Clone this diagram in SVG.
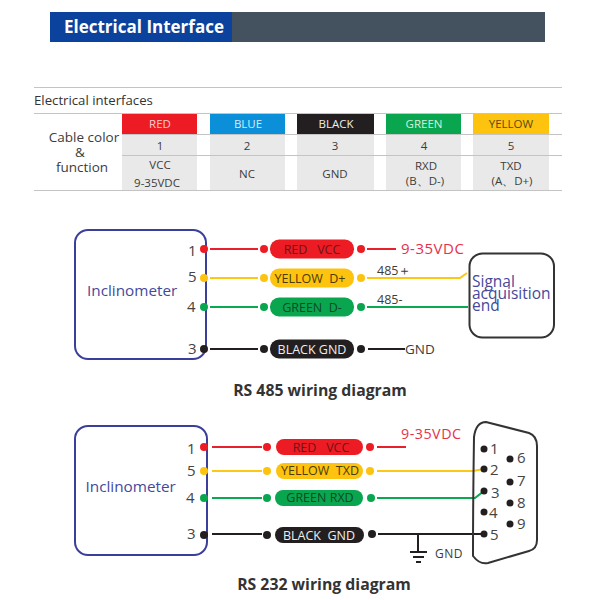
<svg xmlns="http://www.w3.org/2000/svg" width="600" height="600" viewBox="0 0 600 600">
<style>
text{font-family:"Open Sans","Noto Sans","Liberation Sans",sans-serif;fill:#3c3c3c;white-space:pre}
.c{text-anchor:middle}
.t{font-size:11.5px}
.cell{fill:#e9e9e9}
.rule{stroke:#c4c4c4;stroke-width:1}
.box{fill:none;stroke:#3b3f9a;stroke-width:2}
.inc{font-size:15.300px;fill:#45489c}
.num{font-size:15px;fill:#444}
.pl{font-size:12.500px;text-anchor:middle}
.h{font-size:15.800px;font-weight:700;fill:#333;text-anchor:middle}
.w{fill:none;stroke-width:2}
.r{stroke:#e8202e}.y{stroke:#fdc716}.g{stroke:#0aa850}.k{stroke:#231f20}
.fr{fill:#ed1c24}.fy{fill:#fdc30f}.fg{fill:#0aa64f}.fk{fill:#231f20}
.pin{font-size:15px;fill:#444}
</style>
<g id="header">
<rect x="50" y="12" width="495" height="30" fill="#44525f"/>
<rect x="50" y="12" width="182" height="30" fill="#0a429e"/>
<text x="64" y="33" font-size="17" font-weight="700" style="fill:#fff">Electrical Interface</text>
</g>
<g id="table">
<rect class="cell" x="122" y="134" width="75" height="57"/>
<rect class="cell" x="210" y="134" width="75" height="57"/>
<rect class="cell" x="297" y="134" width="77" height="57"/>
<rect class="cell" x="386" y="134" width="75" height="57"/>
<rect class="cell" x="473" y="134" width="76" height="57"/>
<rect x="122" y="114" width="75" height="20" fill="#ed1c24"/>
<rect x="210" y="114" width="75" height="20" fill="#0a8fd8"/>
<rect x="297" y="114" width="77" height="20" fill="#231f20"/>
<rect x="386" y="114" width="75" height="20" fill="#0aa64f"/>
<rect x="473" y="114" width="76" height="20" fill="#fdc30f"/>
<line class="rule" x1="34" y1="87.500" x2="562" y2="87.500"/>
<line class="rule" x1="34" y1="113.500" x2="562" y2="113.500"/>
<line class="rule" x1="122" y1="134.500" x2="562" y2="134.500"/>
<line class="rule" x1="122" y1="155.500" x2="562" y2="155.500"/>
<line class="rule" x1="34" y1="190.500" x2="562" y2="190.500"/>
<text x="34" y="105" font-size="13.200" style="fill:#333">Electrical interfaces</text>
<text class="c" font-size="13.500"><tspan x="84" y="142">Cable color</tspan><tspan x="80" y="157">&amp;</tspan><tspan x="82" y="172">function</tspan></text>
<text class="t c" x="160" y="128" style="fill:#f8d0d0">RED</text>
<text class="t c" x="248" y="128" style="fill:#d5ecf8">BLUE</text>
<text class="t c" x="336" y="128" style="fill:#eee">BLACK</text>
<text class="t c" x="424" y="128" style="fill:#d5f0dd">GREEN</text>
<text class="t c" x="511" y="128" style="fill:#5a4a10">YELLOW</text>
<text class="t c" x="160" y="150">1</text>
<text class="t c" x="247" y="150">2</text>
<text class="t c" x="335" y="150">3</text>
<text class="t c" x="424" y="150">4</text>
<text class="t c" x="511" y="150">5</text>
<text class="t c" x="160" y="169">VCC</text>
<text class="t c" x="157" y="187">9-35VDC</text>
<text class="t c" x="247" y="178">NC</text>
<text class="t c" x="335" y="178">GND</text>
<text class="t c" x="426" y="170">RXD</text>
<text class="t c" x="425" y="185">(B、D-)</text>
<text class="t c" x="511" y="170">TXD</text>
<text class="t c" x="512" y="185">(A、D+)</text>
</g>
<g id="connectors">
<g id="wires-485">
<path class="w r" d="M210 249H258M367 249H396"/>
<path class="w y" d="M210 278H258M367 278H460L467 273"/>
<path class="w g" d="M210 307H258M367 307H468"/>
<path class="w k" d="M210 349H258M368 349H405"/>
</g>
<g id="wires-232">
<path class="w r" d="M212 447H262M377 447H406"/>
<path class="w y" d="M212 471H262M377 471H473L484 469"/>
<path class="w g" d="M212 498H262M377 498H475L484 491"/>
<path class="w k" d="M212 534H262M378 534H484"/>
<path class="w k" d="M418 535V551M410 552H427M413 557H424M416 562H421"/>
</g>
</g>
<g id="inclinometer-485">
<rect class="box" x="75" y="230" width="131" height="129" rx="13"/>
<text class="inc" x="87" y="296">Inclinometer</text>
<text class="num" x="188" y="256">1</text><text class="num" x="188" y="282">5</text><text class="num" x="187" y="312">4</text><text class="num" x="188" y="354">3</text>
<circle class="fr" cx="204" cy="249" r="4"/><circle class="fy" cx="204" cy="278" r="4"/><circle class="fg" cx="204" cy="307" r="4"/><circle class="fk" cx="204" cy="349" r="4"/>
</g>
<g id="cable-485">
<circle class="fr" cx="264" cy="249" r="4"/><circle class="fy" cx="264" cy="278" r="4"/><circle class="fg" cx="264" cy="307" r="4"/><circle class="fk" cx="264" cy="349" r="4"/>
<circle class="fr" cx="361" cy="249" r="4"/><circle class="fy" cx="361" cy="278" r="4"/><circle class="fg" cx="361" cy="307" r="4"/><circle class="fk" cx="361" cy="349" r="4"/>
<rect class="fr" x="270" y="239.500" width="84" height="19" rx="9"/>
<rect class="fy" x="270" y="268.500" width="84" height="19" rx="9"/>
<rect class="fg" x="270" y="297.500" width="84" height="19" rx="9"/>
<rect class="fk" x="270" y="339.500" width="84" height="19" rx="9"/>
<text class="pl" x="312" y="253.500" style="fill:#6d1218">RED   VCC</text>
<text class="pl" x="310" y="283" style="fill:#4a3b05">YELLOW  D+</text>
<text class="pl" x="312" y="312" style="fill:#0b4a25">GREEN  D-</text>
<text class="pl" x="312" y="353.500" style="fill:#eee">BLACK GND</text>
</g>
<g id="labels-485">
<text x="401" y="254" font-size="15" letter-spacing="0.5" style="fill:#e8304a">9-35VDC</text>
<text x="377" y="275" font-size="12.500">485＋</text>
<text x="377" y="304" font-size="12.500">485-</text>
<text x="405" y="354" font-size="13.500">GND</text>
</g>
<g id="signal-end">
<rect x="469.500" y="253.500" width="84.500" height="84" rx="13" fill="#fff" stroke="#333" stroke-width="2"/>
<text font-size="15.500" style="fill:#45489c"><tspan x="472" y="287">Signal</tspan><tspan x="472" y="299">acquisition</tspan><tspan x="472" y="311">end</tspan></text>
</g>
<text class="h" x="320" y="396">RS 485 wiring diagram</text>
<g id="inclinometer-232">
<rect class="box" x="75" y="426" width="132" height="129" rx="13"/>
<text class="inc" x="85.500" y="492">Inclinometer</text>
<text class="num" x="187" y="454">1</text><text class="num" x="187" y="476">5</text><text class="num" x="186" y="503">4</text><text class="num" x="187" y="539">3</text>
<circle class="fr" cx="204" cy="447" r="4"/><circle class="fy" cx="204" cy="471" r="4"/><circle class="fg" cx="204" cy="498" r="4"/><circle class="fk" cx="204" cy="535" r="4"/>
</g>
<g id="cable-232">
<circle class="fr" cx="267" cy="447" r="4"/><circle class="fy" cx="267" cy="471" r="4"/><circle class="fg" cx="267" cy="498" r="4"/><circle class="fk" cx="267" cy="535" r="4"/>
<circle class="fr" cx="370" cy="447" r="4"/><circle class="fy" cx="370" cy="471" r="4"/><circle class="fg" cx="371" cy="498" r="4"/><circle class="fk" cx="372" cy="534" r="4"/>
<rect class="fr" x="276" y="439" width="87" height="16" rx="8"/>
<rect class="fy" x="276" y="463" width="87" height="16" rx="8"/>
<rect class="fg" x="275" y="490" width="88" height="16" rx="8"/>
<rect class="fk" x="275" y="527" width="89" height="16" rx="8"/>
<text class="pl" x="321" y="451.500" style="fill:#6d1218">RED   VCC</text>
<text class="pl" x="320" y="475" font-size="11.500" style="fill:#4a3b05">YELLOW  TXD</text>
<text class="pl" x="320" y="502" font-size="11" style="fill:#0b4a25">GREEN RXD</text>
<text class="pl" x="319" y="539.500" font-size="12" style="fill:#eee">BLACK  GND</text>
</g>
<g id="labels-232">
<text x="401" y="439" font-size="14.300" letter-spacing="0.5" style="fill:#e8304a">9-35VDC</text>
<text x="435" y="558" font-size="12" letter-spacing="0.5">GND</text>
</g>
<g id="db9">
<path d="M474 437Q476 422 486 422L529 433Q537 436 537 446V540Q537 549 529 551L488 563Q480 565 473 556Q473 500 474 437Z" fill="none" stroke="#333" stroke-width="2"/>
<circle class="fk" cx="484" cy="449" r="3.500"/><circle class="fk" cx="484" cy="469" r="3.500"/><circle class="fk" cx="484" cy="491" r="3.500"/><circle class="fk" cx="484" cy="512" r="3.500"/><circle class="fk" cx="484" cy="534" r="3.500"/>
<circle class="fk" cx="510" cy="459" r="3.500"/><circle class="fk" cx="510" cy="482" r="3.500"/><circle class="fk" cx="510" cy="503" r="3.500"/><circle class="fk" cx="510" cy="524" r="3.500"/>
<text class="pin" x="490" y="454">1</text><text class="pin" x="490" y="475">2</text><text class="pin" x="491" y="498">3</text><text class="pin" x="489" y="518">4</text><text class="pin" x="490" y="540">5</text>
<text class="pin" x="517" y="463">6</text><text class="pin" x="517" y="486">7</text><text class="pin" x="517" y="508">8</text><text class="pin" x="517" y="529">9</text>
</g>
<text class="h" x="324" y="590">RS 232 wiring diagram</text>
</svg>
